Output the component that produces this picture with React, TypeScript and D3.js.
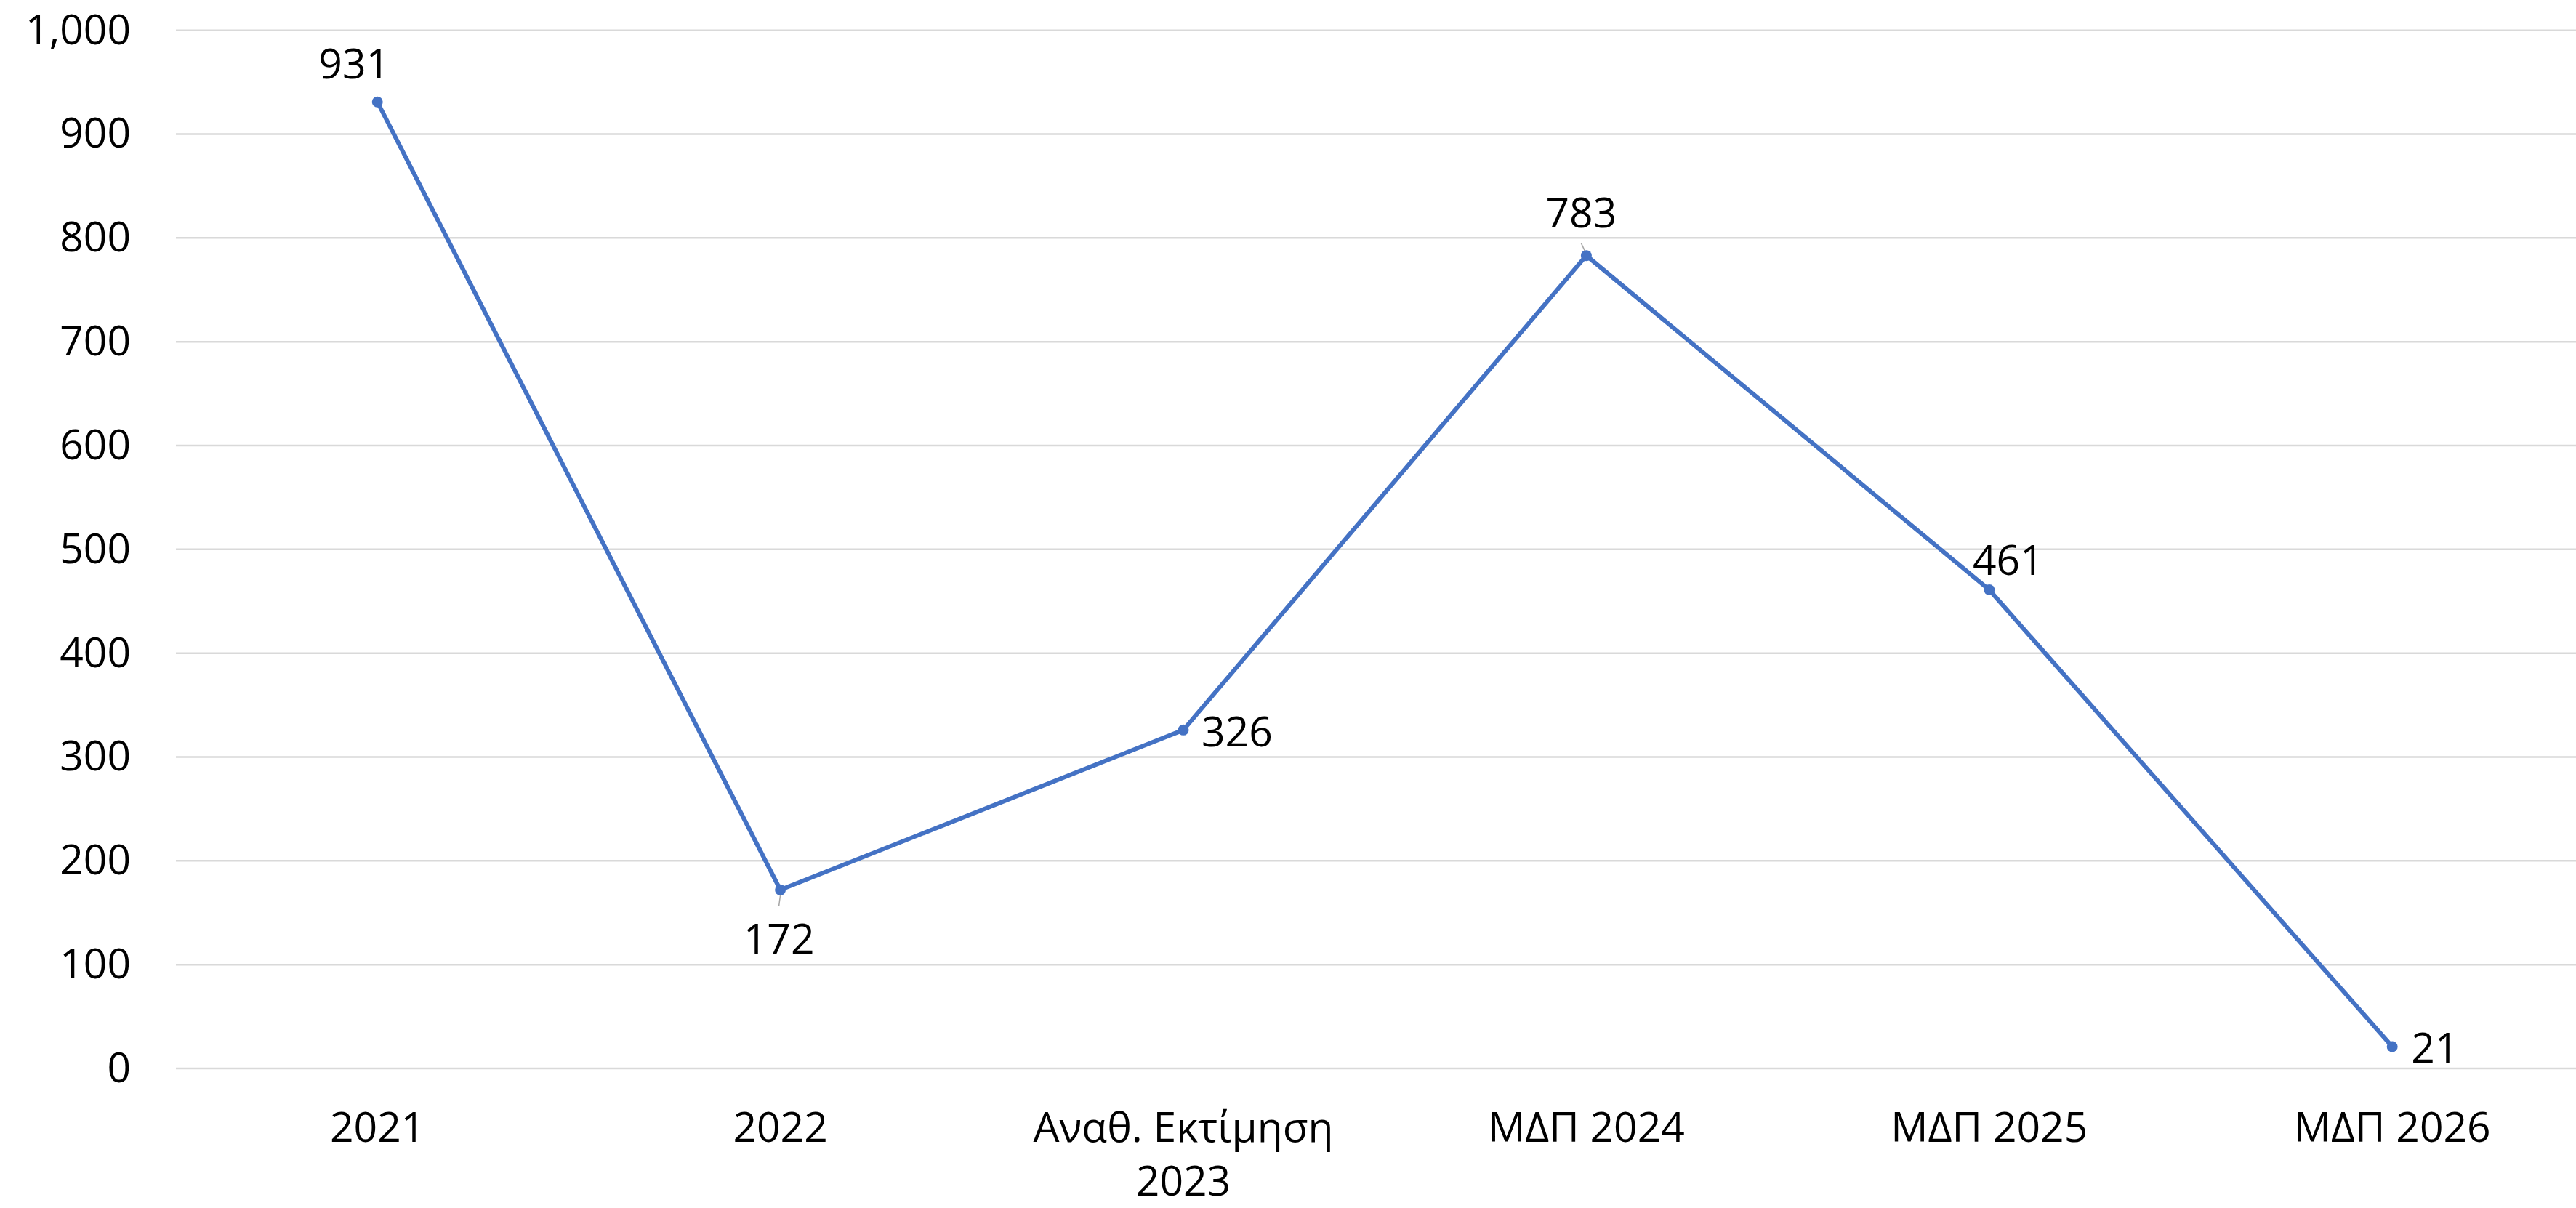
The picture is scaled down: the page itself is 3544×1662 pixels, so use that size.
import React, { useEffect, useRef } from "react";
import * as d3 from "d3";

const categories = ["2021", "2022", "Αναθ. Εκτίμηση 2023", "ΜΔΠ 2024", "ΜΔΠ 2025", "ΜΔΠ 2026"];
const values = [931, 172, 326, 783, 461, 21];
const yTicks = [0, 100, 200, 300, 400, 500, 600, 700, 800, 900, 1000];

// label placement relative to the point (layout only)
const labelPlacement = [
  { dx: -32, dy: -53, anchor: "middle", leader: false },
  { dx: -2, dy: 67, anchor: "middle", leader: true },
  { dx: 25, dy: 2, anchor: "start", leader: false },
  { dx: -7, dy: -59, anchor: "middle", leader: true },
  { dx: 26, dy: -41, anchor: "middle", leader: false },
  { dx: 26, dy: 2, anchor: "start", leader: false },
];

const W = 3544;
const H = 1662;
const FONT = "'Open Sans', 'Noto Sans', sans-serif";
const FS = 57;
const CAP_HALF = FS * 0.357;

export default function App() {
  const ref = useRef<SVGSVGElement>(null);

  useEffect(() => {
    const svg = d3.select(ref.current!);
    svg.selectAll("*").remove();

    const left = 242;
    const band = 554.4;
    const x = d3
      .scaleBand<string>()
      .domain(categories)
      .range([left, left + band * categories.length])
      .padding(0);
    const cx = (c: string) => (x(c) as number) + x.bandwidth() / 2;
    const y = d3.scaleLinear().domain([0, 1000]).range([1470, 41.7]);

    // gridlines
    svg
      .append("g")
      .selectAll("line")
      .data(yTicks)
      .join("line")
      .attr("x1", left)
      .attr("x2", left + band * categories.length)
      .attr("y1", (d) => y(d))
      .attr("y2", (d) => y(d))
      .attr("stroke", "#d9d9d9")
      .attr("stroke-width", 2.5);

    // y tick labels
    const fmt = d3.format(",");
    svg
      .append("g")
      .selectAll("text")
      .data(yTicks)
      .join("text")
      .attr("x", 180)
      .attr("y", (d) => y(d) - 1.5 + CAP_HALF)
      .attr("text-anchor", "end")
      .attr("font-family", FONT)
      .attr("font-size", FS)
      .attr("fill", "#000")
      .text((d) => fmt(d));

    // category labels with wrapping
    const catG = svg.append("g");
    categories.forEach((c) => {
      const t = catG
        .append("text")
        .attr("x", cx(c))
        .attr("y", 1571)
        .attr("text-anchor", "middle")
        .attr("font-family", FONT)
        .attr("font-size", FS)
        .attr("fill", "#000");
      const words = c.split(" ");
      let line: string[] = [];
      let tspan = t.append("tspan").attr("x", cx(c)).attr("dy", 0);
      words.forEach((w) => {
        line.push(w);
        tspan.text(line.join(" "));
        const node = tspan.node() as SVGTSpanElement;
        if (node.getComputedTextLength() > 480 && line.length > 1) {
          line.pop();
          tspan.text(line.join(" "));
          line = [w];
          tspan = t.append("tspan").attr("x", cx(c)).attr("dy", 74).text(w);
        }
      });
    });

    // line
    const pts = categories.map((c, i) => [cx(c), y(values[i])] as [number, number]);
    svg
      .append("path")
      .attr("d", d3.line()(pts) as string)
      .attr("fill", "none")
      .attr("stroke", "#4472C4")
      .attr("stroke-width", 6)
      .attr("stroke-linejoin", "round");

    // leader lines
    const leaders = pts
      .map((p, i) => ({ p, pl: labelPlacement[i] }))
      .filter((d) => d.pl.leader);
    svg
      .append("g")
      .selectAll("line")
      .data(leaders)
      .join("line")
      .attr("x1", (d) => d.p[0])
      .attr("y1", (d) => d.p[1] + (d.pl.dy > 0 ? 7 : -2))
      .attr("x2", (d) => d.p[0] + (d.pl.dx < -4 ? -7 : -2))
      .attr("y2", (d) => d.p[1] + (d.pl.dy > 0 ? 22 : -17))
      .attr("stroke", "#a6a6a6")
      .attr("stroke-width", 1.5);

    // markers
    svg
      .append("g")
      .selectAll("circle")
      .data(pts)
      .join("circle")
      .attr("cx", (d) => d[0])
      .attr("cy", (d) => d[1])
      .attr("r", 7.5)
      .attr("fill", "#4472C4");

    // data labels
    svg
      .append("g")
      .selectAll("text")
      .data(values)
      .join("text")
      .attr("x", (_, i) => pts[i][0] + labelPlacement[i].dx)
      .attr("y", (_, i) => pts[i][1] + labelPlacement[i].dy + CAP_HALF)
      .attr("text-anchor", (_, i) => labelPlacement[i].anchor)
      .attr("font-family", FONT)
      .attr("font-size", FS)
      .attr("fill", "#000")
      .text((d) => fmt(d));
  }, []);

  return (
    <svg
      ref={ref}
      width={W}
      height={H}
      style={{ position: "absolute", left: 0, top: 0, background: "#fff", display: "block" }}
    />
  );
}
